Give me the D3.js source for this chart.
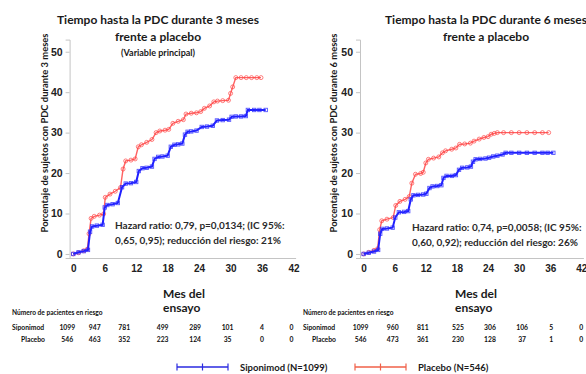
<!DOCTYPE html>
<html>
<head>
<meta charset="utf-8">
<script src="https://cdn.jsdelivr.net/npm/d3@7"></script>
<style>
  body { margin: 0; background: #fff; }
  svg { font-family: Lato, "Open Sans", sans-serif; font-weight: bold; }
  .axis path, .axis line { stroke: #c4c4c4; }
  .axis text { fill: #222; font-size: 10px; font-weight: bold; }
</style>
</head>
<body>
<svg id="chart" width="586" height="374"></svg>
<script>
// x ticks (months) shared by both panels
const monthTicks = [0, 6, 12, 18, 24, 30, 36, 42];
const pctTicks = [0, 10, 20, 30, 40, 50];

// 3-month CDP, [month, % of patients]
const placebo3 = [[0,0],[1,0.3],[2,0.8],[2.7,1.2],[3,5],[3.4,8.8],[4,9.3],[5,9.6],[5.8,9.9],[6.1,14],[7,14.8],[8,15.5],[9,16.4],[9.5,21],[10,23],[11,23.2],[11.8,23.5],[12.4,26.5],[13,27],[14,27.6],[15,28.3],[15.8,30],[16.5,30.4],[17.5,30.6],[18.2,30.8],[19,32.3],[20,32.8],[21,33.2],[21.5,34.6],[22.5,34.8],[23.5,34.9],[24.3,35.2],[25,36],[26,36.6],[26.8,37.6],[27.5,37.8],[28.5,37.9],[29.6,38],[30,39.7],[30.4,41.3],[31,43.6],[32,43.6],[33,43.6],[34,43.6],[35,43.6],[35.8,43.6]];
const siponimod3 = [[0,0],[1,0.4],[2,0.7],[2.8,1],[3.2,5.5],[3.6,6.8],[4.5,7],[5.6,7.2],[6,11.5],[6.5,12.1],[7.5,12.3],[8.5,12.6],[9.3,16.5],[10,17.4],[11,17.5],[12,17.8],[12.5,20.5],[13.2,21.2],[14,21.3],[15,21.6],[15.5,23.5],[16.2,24],[17,24.1],[18,24.3],[18.6,26.5],[19.3,27],[20,27.1],[20.8,27.3],[21.3,29.5],[21.8,30.2],[22.5,30.3],[23.5,30.5],[24.5,31.4],[25.5,31.5],[26.6,31.7],[27.4,33],[28.5,33.1],[29.7,33.2],[30.2,33.9],[31,34],[32,34],[32.9,34.1],[33.3,35.6],[34.5,35.6],[35.5,35.6],[36.7,35.6]];

// 6-month CDP
const placebo6 = [[0,0],[1,0.4],[2,0.9],[2.7,1.3],[3.1,6],[3.5,8.2],[4.5,8.6],[5.7,9],[6.2,12],[7,13],[8,13.5],[8.8,14.2],[9.3,17.5],[10,19.7],[11,19.9],[11.5,20.2],[12,22.5],[12.5,23.4],[13.5,23.7],[14.5,24],[15.2,25],[15.8,25.5],[17,25.9],[17.8,26.2],[18.5,27.1],[19.5,27.2],[20.6,27.4],[21.3,27.9],[22.3,28.4],[23.2,28.8],[24,29],[24.6,29.6],[25.2,29.8],[25.8,30],[27,30],[28.5,30],[30,30],[31.5,30],[33,30],[34.5,30],[35.7,30]];
const siponimod6 = [[0,0],[1,0.3],[2,0.6],[2.8,1],[3.2,5],[3.6,6.2],[4.5,6.3],[5.6,6.5],[6.1,9],[6.8,10.3],[7.8,10.4],[8.6,10.6],[9.1,13.5],[9.6,14.5],[10.5,14.6],[11.5,14.7],[12.1,14.9],[12.7,16.3],[13.3,16.7],[14.2,16.8],[15,17],[15.4,18.8],[16,19.3],[17,19.3],[17.8,19.5],[18.4,20.8],[19,21.3],[20,21.4],[20.7,21.6],[21.1,22.8],[21.6,23.4],[22.5,23.5],[23.5,23.6],[24.2,23.8],[25,24.1],[25.8,24.3],[26.8,24.6],[27.4,25],[28.5,25],[30,25],[31.5,25],[33,25],[34.5,25],[35.5,25],[36.6,25]];

// patients at risk
const atRisk3Sipo = [1099, 947, 781, 499, 289, 101, 4, 0];
const atRisk3Plac = [546, 463, 352, 223, 124, 35, 0, 0];
const atRisk6Sipo = [1099, 960, 811, 525, 306, 106, 5, 0];
const atRisk6Plac = [546, 473, 361, 230, 128, 37, 1, 0];

const svg = d3.select("#chart");

function drawPanel(p) {
    const x = d3.scaleLinear().domain([-0.7, 42.4]).range(p.xRange);
    const y = d3.scaleLinear().domain([-1, 53]).range([258, 39.6]);

    // axes
    svg.append("g")
       .attr("class", "axis")
       .attr("transform", `translate(${x(-0.7)},0)`)
       .call(d3.axisLeft(y).tickValues(pctTicks).tickSize(4).tickPadding(3))
       .selectAll("text").style("font-size", "10.5px");

    svg.append("g")
       .attr("class", "axis")
       .attr("transform", "translate(0,258)")
       .call(d3.axisBottom(x).tickValues(monthTicks).tickSize(0).tickPadding(7));

    const line = d3.line().x(d => x(d[0])).y(d => y(d[1]));

    // placebo curve + open circle markers
    svg.append("path").datum(p.placebo)
       .attr("d", line).attr("fill", "none")
       .attr("stroke", "#ff3a3a").attr("stroke-width", 1.4).attr("opacity", 0.8);
    svg.append("g").selectAll("circle")
       .data(p.placebo).enter().append("circle")
       .attr("cx", d => x(d[0])).attr("cy", d => y(d[1])).attr("r", 2)
       .attr("fill", "none").attr("stroke", "#ff4040").attr("stroke-width", 0.9).attr("opacity", 0.75);

    // siponimod curve + square markers
    svg.append("path").datum(p.siponimod)
       .attr("d", line).attr("fill", "none")
       .attr("stroke", "#1f1fff").attr("stroke-width", 2);
    svg.append("g").selectAll("rect")
       .data(p.siponimod).enter().append("rect")
       .attr("x", d => x(d[0]) - 1.7).attr("y", d => y(d[1]) - 1.7)
       .attr("width", 3.4).attr("height", 3.4)
       .attr("fill", "none").attr("stroke", "#2a2aff").attr("stroke-width", 0.9).attr("opacity", 0.8);

    // titles
    const title = svg.append("text").attr("text-anchor", "middle")
       .attr("fill", "#1a1a1a").style("font-size", "12px");
    p.title.forEach((t, i) => {
        title.append("tspan").attr("x", p.titleX).attr("y", 24 + i * 17).text(t);
    });
    if (p.subtitle) {
        svg.append("text").attr("x", p.titleX).attr("y", 56)
           .attr("text-anchor", "middle").attr("fill", "#1a1a1a")
           .style("font-size", "9px").text(p.subtitle);
    }

    // y label
    svg.append("text")
       .attr("transform", `translate(${p.yLabelX},133) rotate(-90)`)
       .attr("text-anchor", "middle").attr("fill", "#1a1a1a")
       .style("font-size", "9.4px").text(p.yLabel);

    // hazard ratio note
    const hr = svg.append("text").attr("fill", "#2a2a2a").style("font-size", "10px");
    p.hazard.forEach((t, i) => {
        hr.append("tspan").attr("x", p.hrX).attr("y", p.hrY + i * 14.5).text(t);
    });

    // x label
    ["Mes del", "ensayo"].forEach((t, i) => {
        svg.append("text").attr("x", p.xLabelX).attr("y", 298 + i * 14)
           .attr("fill", "#1a1a1a").style("font-size", "12px").text(t);
    });

    // risk table
    svg.append("text").attr("x", p.tableX).attr("y", 315)
       .attr("fill", "#111").style("font-size", "6.6px").text("Número de pacientes en riesgo");
    svg.append("text").attr("x", p.tableX).attr("y", 330)
       .attr("fill", "#111").style("font-size", "6.8px").text("Siponimod");
    svg.append("text").attr("x", p.tableX + 33).attr("y", 342).attr("text-anchor", "end")
       .attr("fill", "#111").style("font-size", "6.8px").text("Placebo");

    [[p.riskSipo, 330], [p.riskPlac, 342]].forEach(([vals, yy]) => {
        svg.append("g").selectAll("text")
           .data(vals).enter().append("text")
           .attr("x", (d, i) => x(monthTicks[i]) - p.riskShift[i])
           .attr("y", yy).attr("text-anchor", "middle")
           .attr("fill", "#111").style("font-size", "6.8px")
           .text(d => d);
    });
}

drawPanel({
    xRange: [69.6, 295.6],
    placebo: placebo3, siponimod: siponimod3,
    title: ["Tiempo hasta la PDC durante 3 meses", "frente a placebo"],
    subtitle: "(Variable principal)",
    titleX: 158,
    yLabel: "Porcentaje de sujetos con PDC durante 3 meses", yLabelX: 48,
    hazard: ["Hazard ratio: 0,79, p=0,0134; (IC 95%:", "0,65, 0,95); reducción del riesgo: 21%"],
    hrX: 115, hrY: 229,
    xLabelX: 163,
    tableX: 12,
    riskSipo: atRisk3Sipo, riskPlac: atRisk3Plac,
    riskShift: [6, 10, 12, 5, 4, 3, 0, 2]
});

drawPanel({
    xRange: [360.0, 583.4],
    placebo: placebo6, siponimod: siponimod6,
    title: ["Tiempo hasta la PDC durante 6 meses", "frente a placebo"],
    titleX: 486,
    yLabel: "Porcentaje de sujetos con PDC durante 6 meses", yLabelX: 337,
    hazard: ["Hazard ratio: 0,74, p=0,0058; (IC 95%:", "0,60, 0,92); reducción del riesgo: 26%"],
    hrX: 412, hrY: 231,
    xLabelX: 455,
    tableX: 303,
    riskSipo: atRisk6Sipo, riskPlac: atRisk6Plac,
    riskShift: [3, 2, 3, -1, -2, -3, -1, 0]
});

// legend
const legend = [
    { name: "Siponimod (N=1099)", color: "#2a2ae0", x0: 177 },
    { name: "Placebo (N=546)", color: "#f06048", x0: 355 }
];
legend.forEach(l => {
    const g = svg.append("g").attr("transform", `translate(${l.x0},367)`);
    g.append("line").attr("x1", 0).attr("x2", 51).attr("stroke", l.color).attr("stroke-width", 1.3);
    [0, 25.5, 51].forEach(t => {
        g.append("line").attr("x1", t).attr("x2", t).attr("y1", -3.5).attr("y2", 3.5)
         .attr("stroke", l.color).attr("stroke-width", 1.2);
    });
    g.append("text").attr("x", 63).attr("y", 3.5).attr("fill", "#1a1a1a")
     .style("font-size", "9.5px").text(l.name);
});
</script>
</body>
</html>
